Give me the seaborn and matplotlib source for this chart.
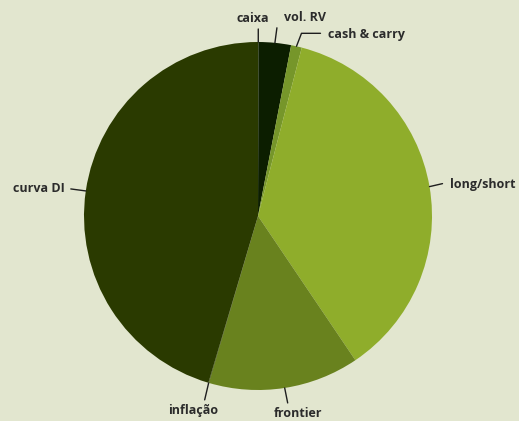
import numpy as np
import pandas as pd
import seaborn as sns
import matplotlib.pyplot as plt

# portfolio allocation, clockwise from 12 o'clock
labels = ["caixa", "vol. RV", "cash & carry", "long/short", "frontier", "inflação", "curva DI"]
shares = [0.05, 3.0, 1.0, 36.5, 14.0, 0.05, 45.4]
colors = ["#0c1e00", "#0c1e00", "#76962a", "#8fad2b", "#69821e", "#2a3a00", "#2a3a00"]

# label layout: line end offset (px) from wedge edge, text offset (px), alignment, elbow angle
layout = {
    "caixa":        dict(line=(0, 13), text=(-5, 24), ha="center", va="center", elbow=None),
    "vol. RV":      dict(line=(2, 15), text=(30, 25), ha="center", va="center", elbow=None),
    "cash & carry": dict(line=(24, 13), text=(32, 12), ha="left", va="center", elbow=69),
    "long/short":   dict(line=(13, 3), text=(20, 2), ha="left", va="center", elbow=None),
    "frontier":     dict(line=(3, -15), text=(13, -26), ha="center", va="center", elbow=None),
    "inflação":     dict(line=(-4, -17), text=(-15, -28), ha="center", va="center", elbow=None),
    "curva DI":     dict(line=(-15, 2), text=(-21, 2), ha="right", va="center", elbow=None),
}

df = pd.DataFrame({"label": labels, "share": shares, "color": colors})

sns.set_theme(style="white")
plt.rcParams["font.family"] = ["Open Sans", "DejaVu Sans"]

bg = "#e2e6cf"
fig = plt.figure(figsize=(5.19, 4.21), dpi=100, facecolor=bg)
ax = fig.add_axes([84 / 519, 31 / 421, 348 / 519, 348 / 421])
ax.set_facecolor(bg)

wedges, _ = ax.pie(df["share"], colors=df["color"], startangle=90, counterclock=False,
                   radius=1.0, wedgeprops=dict(linewidth=0))
ax.set_xlim(-1, 1)
ax.set_ylim(-1, 1)
ax.axis("off")

for w, lab in zip(wedges, df["label"]):
    mid = np.deg2rad((w.theta1 + w.theta2) / 2)
    edge = (np.cos(mid), np.sin(mid))
    lo = layout[lab]
    conn = "arc3" if lo["elbow"] is None else f"angle,angleA=0,angleB={lo['elbow']},rad=0"
    ax.annotate("", xy=edge, xytext=lo["line"], textcoords="offset pixels",
                arrowprops=dict(arrowstyle="-", color="#1e1e1e", lw=1.0,
                                shrinkA=0, shrinkB=0, connectionstyle=conn))
    ax.annotate(lab, xy=edge, xytext=lo["text"], textcoords="offset pixels",
                ha=lo["ha"], va=lo["va"], fontsize=9, fontweight="bold", color="#2b2b2b")

fig.savefig("out.png", dpi=100, facecolor=bg)
